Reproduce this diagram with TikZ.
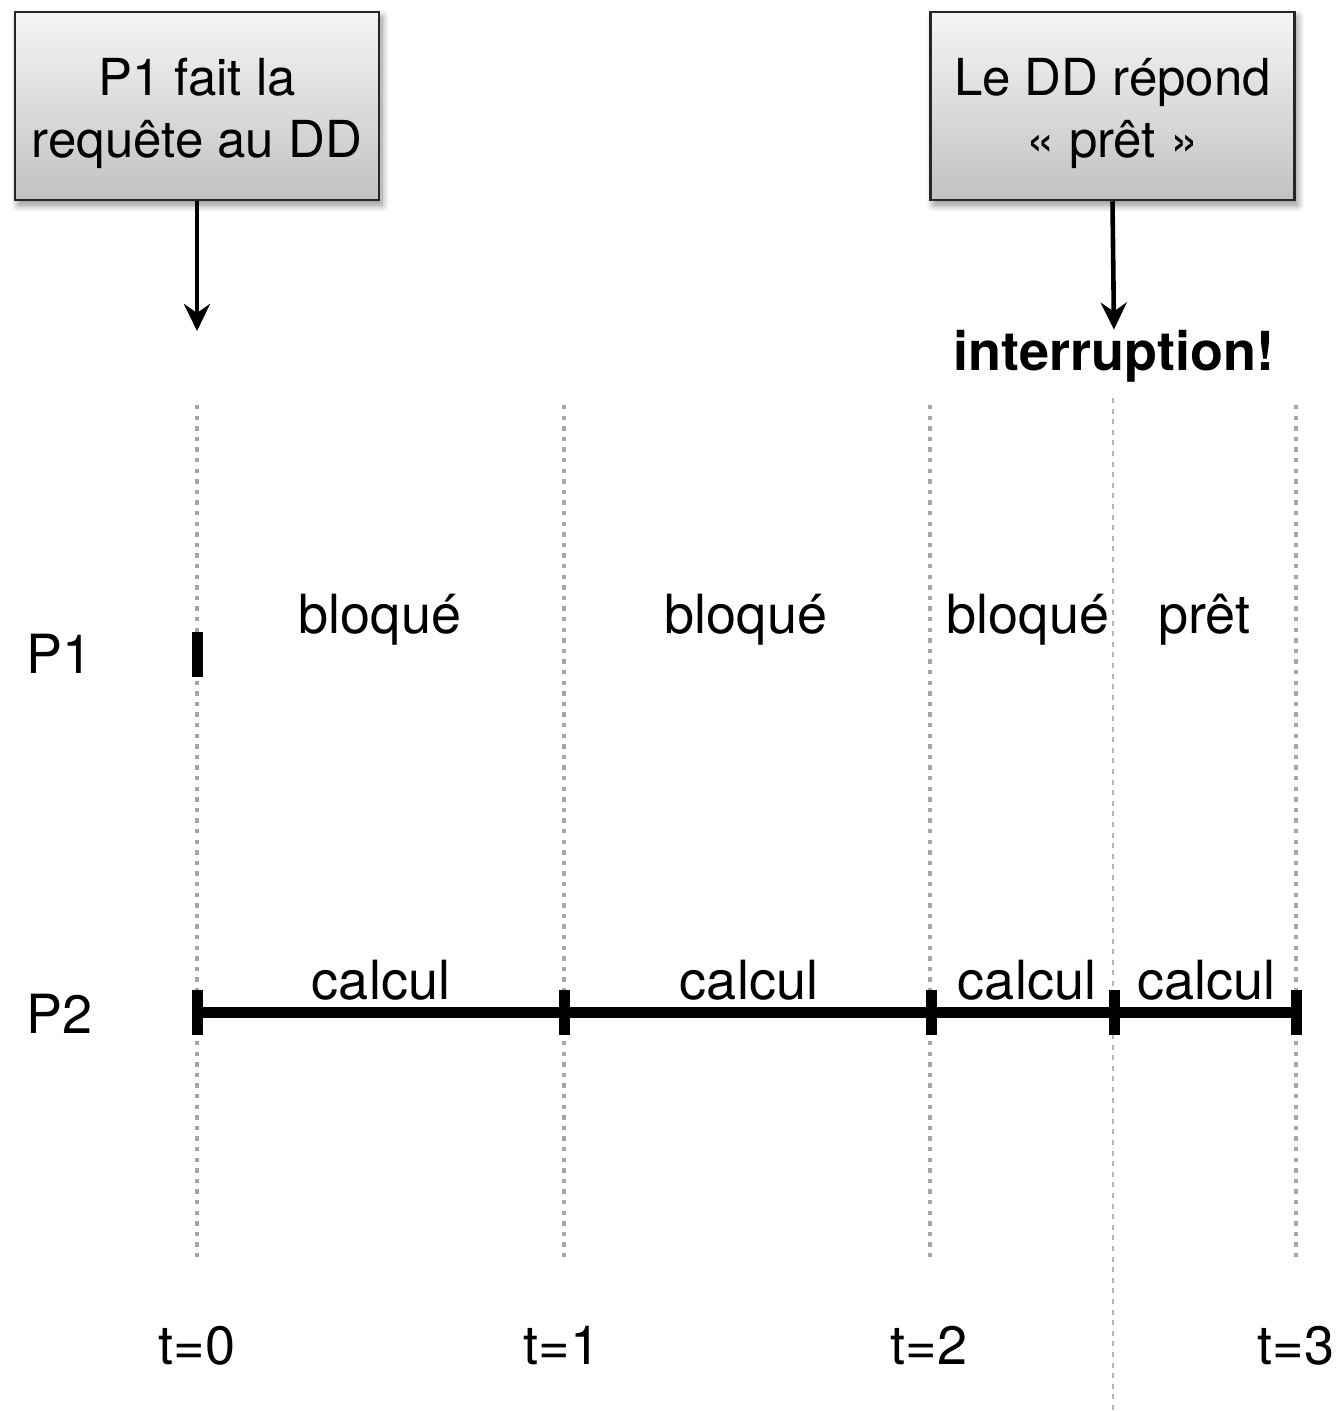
\documentclass[tikz,border=0pt]{standalone}
\usepackage{fontspec}
\setmainfont{TeX Gyre Heros}
\usetikzlibrary{arrows.meta,shadows.blur}

\tikzset{
  notebox/.style={draw=black!85, line width=2.5pt, minimum width=364pt, minimum height=188pt,
    top color=gray!8, bottom color=gray!48, align=center, inner sep=0pt,
    font=\fontsize{51}{62}\selectfont,
    blur shadow={shadow xshift=3pt, shadow yshift=-5pt, shadow blur steps=12, shadow opacity=45, shadow blur radius=7pt}},
  callarrow/.style={line width=4.6pt, -{Stealth[length=27pt, width=26pt, inset=9pt]}},
  tline/.style={draw=gray!70, line width=4.6pt, dash pattern=on 4.4pt off 6.2pt},
  irqline/.style={draw=gray!58, line width=2.6pt, dash pattern=on 5pt off 5.6pt},
  lbl/.style={anchor=base, inner sep=0pt, font=\fontsize{54}{62}\selectfont},
  tick/.style={fill=black, minimum width=11pt, minimum height=45pt, inner sep=0pt},
  run/.style={line width=11pt}
}

\begin{document}
\begin{tikzpicture}[x=1pt, y=-1pt]
  \useasboundingbox (0,0) rectangle (1340,1411);

  % time grid
  \foreach \x/\n in {197/g0, 564/g1, 930/g2, 1296/g3} {
    \coordinate (\n top) at (\x,405);
    \coordinate (\n bot) at (\x,1262);
    \draw[tline] (\n top) -- (\n bot);
  }
  \coordinate (irqtop) at (1113,398);
  \coordinate (irqbot) at (1113,1411);
  \draw[irqline] (irqtop) -- (irqbot);

  % event boxes
  \node[notebox] (req) at (197,106) {\rule{0pt}{52pt}P1 fait la\\requête au DD};
  \node[notebox] (rep) at (1112.5,106) {\rule{0pt}{52pt}Le DD répond\\« prêt »};

  \coordinate (reqtip) at (197,331);
  \draw[callarrow] (req.south) -- (reqtip);
  \node[anchor=base, inner sep=0pt, font=\fontsize{54}{62}\selectfont\bfseries] (irq) at (1114,370) {interruption!};
  \draw[callarrow] (rep.south) -- (irq.north);

  % process labels
  \node[lbl, anchor=base west] (p1) at (26,673) {P1};
  \node[lbl, anchor=base west] (p2) at (26,1033) {P2};

  % P1 states
  \node[tick] (p1start) at (197,654) {};
  \node[lbl] (b1) at (380,633) {bloqué};
  \node[lbl] (b2) at (746,633) {bloqué};
  \node[lbl] (b3) at (1028,633) {bloqué};
  \node[lbl] (r1) at (1204,633) {prêt};

  % P2 timeline
  \node[tick] (k0) at (197,1012) {};
  \node[tick] (k1) at (564,1012) {};
  \node[tick] (k2) at (931,1012) {};
  \node[tick] (k3) at (1114,1012) {};
  \node[tick] (k4) at (1296,1012) {};
  \draw[run] (k0.center) -- (k1.center) -- (k2.center) -- (k3.center) -- (k4.center);
  \node[lbl] (c1) at (381,999) {calcul};
  \node[lbl] (c2) at (749,999) {calcul};
  \node[lbl] (c3) at (1027,999) {calcul};
  \node[lbl] (c4) at (1206,999) {calcul};

  % time labels
  \node[lbl] (t0) at (197,1364) {t=0};
  \node[lbl] (t1) at (562,1364) {t=1};
  \node[lbl] (t2) at (929,1364) {t=2};
  \node[lbl] (t3) at (1296,1364) {t=3};
\end{tikzpicture}
\end{document}
